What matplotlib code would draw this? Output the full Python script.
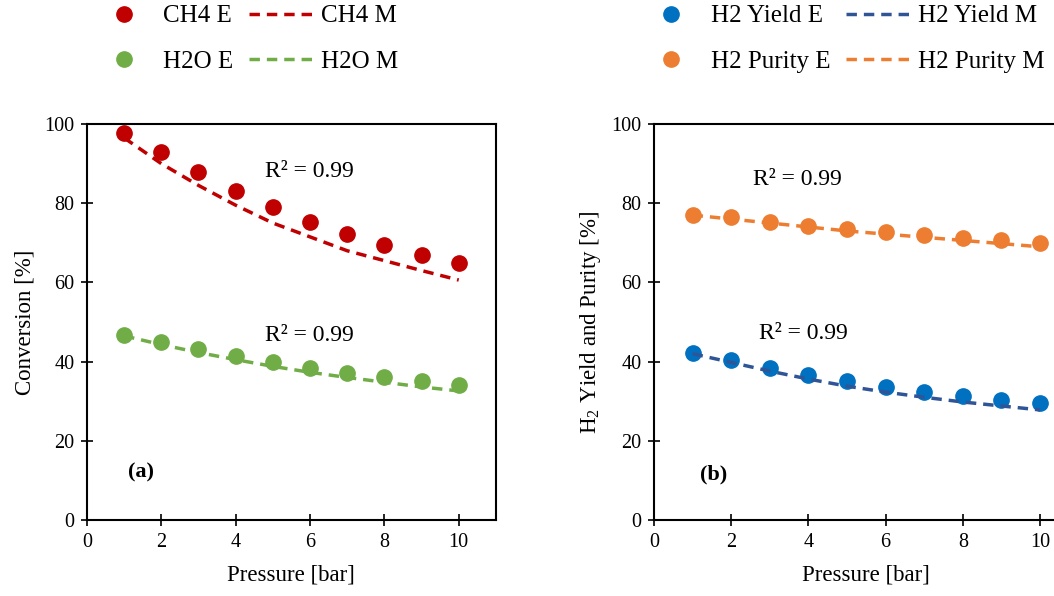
import numpy as np
import matplotlib
matplotlib.use("Agg")
import matplotlib.pyplot as plt

plt.rcParams['font.family'] = ['Liberation Serif', 'DejaVu Serif']
plt.rcParams['mathtext.fontset'] = 'stix'

# ---------------------- data ----------------------
pressure = [1, 2, 3, 4, 5, 6, 7, 8, 9, 10]

ch4_exp = [97.8, 93.0, 88.0, 83.2, 79.0, 75.3, 72.2, 69.5, 67.0, 64.9]
ch4_mod = [96.5, 90.0, 84.5, 79.5, 75.0, 71.5, 68.0, 65.5, 63.0, 60.6]
h2o_exp = [46.7, 45.0, 43.2, 41.4, 39.8, 38.4, 37.1, 36.1, 35.1, 34.2]
h2o_mod = [46.5, 44.3, 42.3, 40.5, 38.8, 37.3, 36.0, 34.8, 33.6, 32.6]

yield_exp = [42.3, 40.4, 38.5, 36.7, 35.1, 33.7, 32.4, 31.3, 30.3, 29.5]
yield_mod = [42.0, 39.8, 37.6, 35.6, 33.8, 32.3, 31.0, 29.8, 28.8, 27.8]
purity_exp = [77.0, 76.4, 75.3, 74.3, 73.6, 72.8, 72.1, 71.3, 70.7, 69.9]
purity_mod = [77.0, 76.0, 75.0, 74.0, 73.0, 72.2, 71.4, 70.6, 69.8, 69.0]

x_ticks = [0, 2, 4, 6, 8, 10]
y_ticks = [0, 20, 40, 60, 80, 100]

red, green = "#C00000", "#70AD47"
blue, navy, orange = "#0070C0", "#2F5597", "#ED7D31"

fig = plt.figure(figsize=(10.54, 5.96), dpi=100)
ax1 = fig.add_axes([0.0825, 0.1275, 0.388, 0.6644])
ax2 = fig.add_axes([0.6205, 0.1275, 0.4029, 0.6644])


def style(ax, ylabel):
    ax.set_xlim(0, 11)
    ax.set_ylim(0, 100)
    ax.set_xticks(x_ticks)
    ax.set_yticks(y_ticks)
    ax.tick_params(direction='inout', length=8, width=1.2, labelsize=14.5, pad=5)
    for s in ax.spines.values():
        s.set_linewidth(1.5)
    ax.set_xlabel("Pressure [bar]", fontsize=16.5, labelpad=9)
    ax.set_ylabel(ylabel, fontsize=16.5, labelpad=6)


# ---------------------- panel (a) ----------------------
ax1.plot(pressure, ch4_exp, 'o', color=red, ms=11, label="CH4 E")
ax1.plot(pressure, h2o_exp, 'o', color=green, ms=11, label="H2O E")
ax1.plot(pressure, ch4_mod, '--', color=red, lw=2.5, dashes=(3, 2), label="CH4 M")
ax1.plot(pressure, h2o_mod, '--', color=green, lw=2.5, dashes=(3, 2), label="H2O M")
ax1.text(4.8, 88, "R² = 0.99", fontsize=17, va='center')
ax1.text(4.8, 46.5, "R² = 0.99", fontsize=17, va='center')
ax1.text(1.1, 12, "(a)", fontsize=16, fontweight='bold', va='center')
style(ax1, "Conversion [%]")

# ---------------------- panel (b) ----------------------
ax2.plot(pressure, yield_exp, 'o', color=blue, ms=11, label="H2 Yield E")
ax2.plot(pressure, purity_exp, 'o', color=orange, ms=11, label="H2 Purity E")
ax2.plot(pressure, yield_mod, '--', color=navy, lw=2.5, dashes=(3, 2), label="H2 Yield M")
ax2.plot(pressure, purity_mod, '--', color=orange, lw=2.5, dashes=(3, 2), label="H2 Purity M")
ax2.text(2.56, 86, "R² = 0.99", fontsize=17, va='center')
ax2.text(2.72, 47, "R² = 0.99", fontsize=17, va='center')
ax2.text(1.2, 11.5, "(b)", fontsize=16, fontweight='bold', va='center')
style(ax2, r"H$_\mathregular{2}$ Yield and Purity [%]")

for ax, cx in [(ax1, 245 / 1054), (ax2, 842 / 1054)]:
    h, l = ax.get_legend_handles_labels()
    fig.legend(h, l, ncol=2, loc='center', bbox_to_anchor=(cx, 1 - 39 / 596),
               frameon=False, fontsize=18, handlelength=2.6, columnspacing=0.64,
               handletextpad=0.28, labelspacing=0.92, borderpad=0)

fig.savefig("out.png", dpi=100)
